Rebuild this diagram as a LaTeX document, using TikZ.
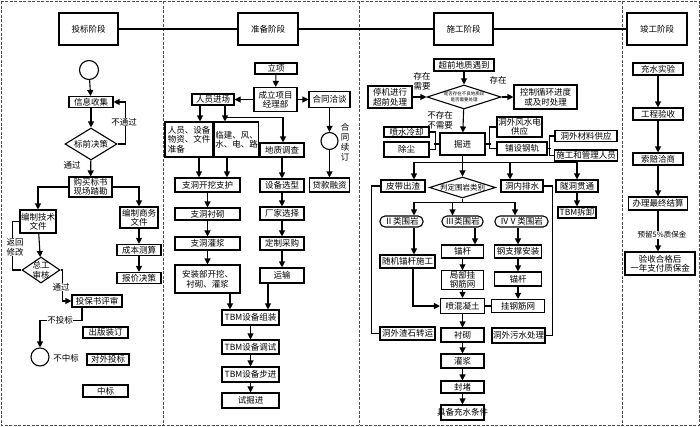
\documentclass[tikz,border=0pt]{standalone}
\usepackage{fontspec}
\newfontfamily\cjk{Noto Sans CJK SC}
\usetikzlibrary{shapes.geometric,arrows.meta}
\tikzset{
 bx/.style={draw, line width=1.1pt, fill=white, inner sep=0.5pt, align=center, font=\cjk\fontsize{8.5}{9.5}\selectfont},
 dia/.style={diamond, draw, line width=1.1pt, fill=white, inner sep=0pt},
 crc/.style={circle, draw, line width=1.1pt, fill=white, inner sep=0pt},
 arr/.style={line width=1.1pt, -{Triangle[length=6pt,width=6pt]}},
 ln/.style={line width=1.1pt},
 lab/.style={font=\cjk\fontsize{8.5}{10}\selectfont, align=center, inner sep=0.5pt},
 labw/.style={lab, fill=white},
 bord/.style={dash pattern=on 3pt off 1.5pt, line width=1pt, black!70},
}
\newcommand\B[6][]{\node[bx,minimum width=#4pt,minimum height=#5pt,#1] (#2) at (#3) {#6};}
\begin{document}
\begin{tikzpicture}[x=1pt,y=-1pt]
\useasboundingbox (0,0) rectangle (700,426);
\draw[bord] (1,1) rectangle (699,425);
\draw[bord] (163,1) -- (163,425);
\draw[bord] (359,1) -- (359,425);
\draw[bord] (622,1) -- (622,425);

% ---------- stage 1
\B{s1}{88.5,29}{59}{32}{投标阶段}
\node[crc, minimum size=19pt] (c1) at (89,70) {};
\B{xx}{91,102}{44}{11}{信息收集}
\node[dia, minimum width=52pt, minimum height=32pt, label={[lab]center:标前决策}] (bq) at (91,144) {};
\B{gm}{90.5,187}{43}{20}{购买标书\\现场踏勘}
\B{jj}{38,221.5}{36}{23}{编制技术\\文件}
\B{sw}{139,217.5}{38}{21}{编制商务\\文件}
\B{cb}{139,250}{44}{11}{成本测算}
\B{bj}{139,278}{44}{11}{报价决策}
\node[dia, minimum width=38pt, minimum height=26pt, label={[lab]center:总工\\审核}] (zg) at (41,270) {};
\B{tb}{97,301}{50}{12}{投保书评审}
\node[crc, minimum size=18pt] (c2) at (40,357) {};
\B{cz}{105.5,332.5}{45}{11}{出版装订}
\B{dw}{108,359.5}{42}{11}{对外投标}
\B{zb}{105.5,391}{45}{12}{中标}

\draw[arr] (c1) -- (xx);
\draw[arr] (xx) -- (bq);
\draw[arr] (bq.east) -- ++(8,0) |- (xx.east);
\node[labw] at (124,122) {不通过};
\draw[arr] (bq) -- (gm);
\node[lab] at (72,165) {通过};
\draw[arr] (gm.west) -| (jj.north);
\draw[arr] (gm.east) -| (sw.north);
\draw[arr] (sw) -- (cb);
\draw[arr] (cb) -- (bj);
\draw[arr] (jj) -- (zg);
\draw[ln] (zg.west) -- ++(-9,0) |- (jj.west);
\node[labw] at (15,247) {返回\\修改};
\draw[arr] (zg.east) -- ++(2,0) |- (tb.west);
\node[labw] at (61,287) {通过};
\draw[arr] ([xshift=-15pt]tb.south) -- ++(0,13) -| (c2.north);
\node[labw] at (60,320) {不投标};
\node[lab] at (66,358) {不中标};

% ---------- stage 2
\B{s2}{268,29}{60}{32}{准备阶段}
\B{lx}{276,68.5}{42}{11}{立项}
\B{cl}{275.5,99.5}{43}{24}{成立项目\\经理部}
\B{ry}{213,99.5}{42}{11}{人员进场}
\B{ht}{329.5,99.5}{41}{16}{合同洽谈}
\B[align=left]{rs}{189,139.5}{48}{35}{人员、设备\\物资、文件\\准备}
\B[align=left]{lj}{236.5,139.5}{43}{35}{临建、风、\\水、电、路}
\B{dz}{282,150}{44}{14}{地质调查}
\node[crc, minimum size=17pt] (c3) at (329.5,141) {};
\node[lab] at (345,142) {合\\同\\续\\订};
\B{dk}{329.5,185}{40}{14}{贷款融资}
\B{zk}{207.5,185}{65}{14}{支洞开挖支护}
\B{zc}{207.5,214}{65}{12}{支洞衬砌}
\B{zj}{207.5,243.5}{65}{13}{支洞灌浆}
\B{az}{207.5,279}{65}{28}{安装部开挖、\\衬砌、灌浆}
\B{sx}{282,185.5}{44}{13}{设备选型}
\B{cj}{282,213.5}{44}{13}{厂家选择}
\B{dc}{282,243.5}{44}{13}{定制采购}
\B{ys}{282,275.5}{44}{15}{运输}
\B{t1}{250.5,317.5}{57}{15}{TBM设备组装}
\B{t2}{250.5,347}{57}{14}{TBM设备调试}
\B{t3}{250.5,374.5}{57}{15}{TBM设备步进}
\B{t4}{250.5,400.5}{57}{15}{试掘进}

\draw[arr] (lx) -- (cl);
\draw[arr] (cl) -- (ry);
\draw[arr] (cl) -- (ht);
\draw[arr] ([xshift=-13pt]ry.south) -- ([xshift=11pt]rs.north);
\draw[arr] ([xshift=12pt]ry.south) -- ([xshift=-11.5pt]lj.north);
\draw[arr] ([xshift=12pt]ry.south) ++(0,12) -| ([xshift=1pt]dz.north);
\draw[arr] (ht) -- (c3);
\draw[arr] (c3) -- (dk);
\draw[arr] ([xshift=10pt]rs.south) -- ([xshift=-8.5pt]zk.north);
\draw[arr] ([xshift=-9.5pt]lj.south) -- ([xshift=19.5pt]zk.north);
\draw[arr] (zk) -- (zc);
\draw[arr] (zc) -- (zj);
\draw[arr] (zj) -- (az);
\draw[arr] (dz) -- (sx);
\draw[arr] (sx) -- (cj);
\draw[arr] (cj) -- (dc);
\draw[arr] (dc) -- (ys);
\draw[arr] ([xshift=22.5pt]az.south) -- ([xshift=-20.5pt]t1.north);
\draw[arr] ([xshift=-14pt]ys.south) -- ([xshift=17.5pt]t1.north);
\draw[arr] (t1) -- (t2);
\draw[arr] (t2) -- (t3);
\draw[arr] (t3) -- (t4);

% ---------- stage 3
\B{s3}{463.5,29}{59}{32}{施工阶段}
\B{cq}{464,65}{60}{12}{超前地质遇到}
\node[dia, minimum width=74pt, minimum height=24pt, label={[lab, font=\cjk\fontsize{4.5}{5.5}\selectfont]center:是否存在不良地质段\\是否需要处理}] (dm) at (464,97) {};
\B{tj}{390,97}{44}{22}{停机进行\\超前处理}
\B{kz}{545.5,97}{63}{24}{控制循环进度\\或及时处理}
\B{jn}{462.5,144}{45}{22}{掘进}
\B{ps}{406.5,132}{45}{10}{喷水冷却}
\B{cc}{406.5,149.5}{45}{15}{除尘}
\B{fs}{519.5,127}{45}{20}{洞外风水电\\供应}
\B{pg}{522,148.5}{50}{13}{铺设钢轨}
\B{cl2}{586,136}{62}{11}{洞外材料供应}
\B{sg}{586,155.5}{63}{11}{施工和管理人员}
\B{pd}{403,186}{44}{12}{皮带出渣}
\node[dia, minimum width=66pt, minimum height=21pt, label={[lab, font=\cjk\fontsize{7.5}{9}\selectfont]center:判定围岩类别}] (pw) at (462.5,187.5) {};
\B{dn}{522,186}{42}{12}{洞内排水}
\B{sd}{577,186}{42}{12}{隧洞贯通}
\B{tc}{577,212.5}{38}{11}{TBM拆卸}
\B[rounded corners=5pt]{w2}{401.5,221.5}{43}{11}{Ⅱ类围岩}
\B[rounded corners=5pt]{w3}{462.5,221.5}{41}{11}{Ⅲ类围岩}
\B[rounded corners=5pt]{w4}{521.5,221.5}{53}{11}{ⅣⅤ类围岩}
\B{sj}{407.5,261.5}{55}{13}{随机锚杆施工}
\B{mg1}{462.5,251.5}{42}{13}{锚杆}
\B{jb}{462.5,280}{42}{18}{局部挂\\钢筋网}
\B{ph}{462.5,306}{44}{15}{喷混凝土}
\B{gz}{518,251.5}{47}{13}{钢支撑安装}
\B{mg2}{518,279}{47}{14}{锚杆}
\B{gj}{518,306}{53}{13}{挂钢筋网}
\B{cq2}{462.5,335}{43}{14}{衬砌}
\B{gj2}{462.5,361}{43}{14}{灌浆}
\B{fd}{462.5,387}{43}{12}{封堵}
\node[bx, minimum width=43pt, minimum height=15pt, label={[lab]center:具备充水条件}] (jb2) at (462.5,412.5) {};
\B{ow}{407.5,333.5}{55}{13}{洞外渣石转运}
\B{ws}{518.5,335.5}{53}{15}{洞外污水处理}

\draw[arr] (cq) -- (dm);
\draw[arr] (tj) -- (dm);
\node[lab] at (422,81) {存在\\需要};
\draw[arr] (dm) -- (kz);
\node[lab] at (498,80) {存在};
\draw[arr] (dm) -- (jn);
\node[lab] at (440,120) {不存在\\不需要};
\draw[ln] (ps.east) -- ++(6,0) |- (cc.east);
\draw[ln] (jn.west) -- ++(-5,0);
\draw[ln] (fs.west) -- ++(-7,0) |- (pg.west);
\draw[ln] (jn.east) -- ++(5,0);
\draw[ln] (cl2.west) -- ++(-5,0) |- (sg.west);
\draw[ln] (pg.east) -- ++(3,0);
\draw[ln] (jn.south) -- ++(0,7) coordinate (bus);
\draw[arr] (bus) -| ([xshift=11pt]pd.north);
\draw[arr] (bus) -- (pw.north);
\draw[arr] (bus) -| ([xshift=-12pt]dn.north);
\draw[arr] (bus) -| (sd.north);
\draw[arr] (sd) -- (tc);
\draw[ln] (pw.south) -- ++(0,4) coordinate (bus2);
\draw[arr] (bus2) -| ([xshift=12.5pt]w2.north);
\draw[arr] (bus2) -| ([xshift=-10pt]w3.north);
\draw[arr] (bus2) -| ([xshift=-6.5pt]w4.north);
\draw[arr] ([xshift=12.5pt]w2.south) -- ([xshift=6.5pt]sj.north);
\draw[arr] ([xshift=12.5pt]w3.south) -- ([xshift=12.5pt]mg1.north);
\draw[arr] (mg1) -- (jb);
\draw[arr] (jb) -- (ph);
\draw[arr] ([xshift=5.5pt]sj.south) |- (ph.west);
\draw[arr] ([xshift=-3.5pt]w4.south) -- (gz.north);
\draw[arr] (gz) -- (mg2);
\draw[arr] (mg2) -- (gj);
\draw[ln] (gj.west) -- (ph.east);
\draw[arr] (ph) -- (cq2);
\draw[arr] (cq2) -- (gj2);
\draw[arr] (gj2) -- (fd);
\draw[arr] (fd) -- (jb2);
\draw[ln] (pd.west) -- ++(-9,0) |- (ow.west);
\draw[ln] (dn.east) -- ++(9,0) |- (ws.east);

% ---------- stage 4
\B{s4}{657,29}{60}{32}{竣工阶段}
\B{cs}{658,69}{50}{12}{充水实验}
\B{gy}{658,114}{50}{12}{工程验收}
\B{sp}{658,159}{50}{12}{索赔洽商}
\B{bl}{658,203.5}{59}{13}{办理最终结算}
\B{ysb}{660,263.5}{70}{23}{验收合格后\\一年支付质保金}
\draw[arr] (cs) -- (gy);
\draw[arr] (gy) -- (sp);
\draw[arr] (sp) -- (bl);
\draw[arr] (bl) -- (bl.south |- ysb.north);
\node[labw, font=\cjk\fontsize{7.5}{9}\selectfont] at (662,235) {预留5\%质保金};

% stage line
\draw[ln] (s1) -- (s2);
\draw[ln] (s2) -- (s3);
\draw[ln] (s3) -- (s4);
\end{tikzpicture}
\end{document}
